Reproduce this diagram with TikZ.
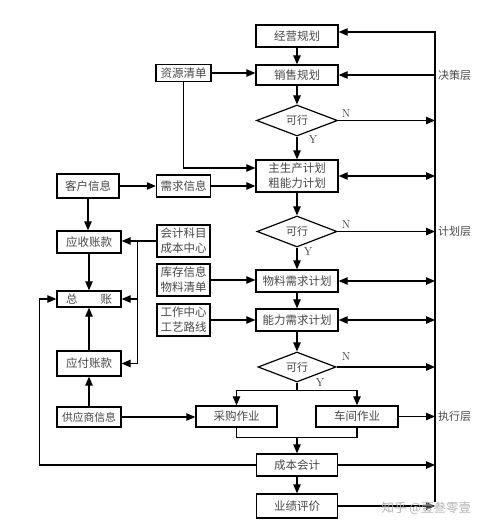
\documentclass[tikz,border=0pt]{standalone}
\usepackage{fontspec}
\newfontfamily\cjk{Noto Sans CJK SC}
\usetikzlibrary{shapes.geometric,arrows.meta,calc}
\tikzset{
  box/.style={draw=black,line width=1.4pt,fill=white,rectangle,inner sep=0pt,
    text=black!72,font=\cjk\fontsize{11.5}{15}\selectfont,align=center},
  dia/.style={draw=black,line width=1.2pt,fill=white,diamond,aspect=2.6,inner sep=0pt,
    text=black!72,font=\cjk\fontsize{11}{12}\selectfont},
  ln/.style={line width=1.1pt},
  arr/.style={ln,-{Triangle[length=9pt,width=7.5pt]}},
  darr/.style={ln,{Triangle[length=9pt,width=7.5pt]}-{Triangle[length=9pt,width=7.5pt]}},
  lab/.style={font=\cjk\fontsize{11}{12}\selectfont,text=black!72,inner sep=1pt},
  yn/.style={font=\fontsize{11.5}{12}\selectfont,text=black!80,inner sep=0pt}
}
\begin{document}
\begin{tikzpicture}[x=1pt,y=-1pt]
\useasboundingbox (0,0) rectangle (499,530);
% boxes
\node[box,minimum width=82pt,minimum height=22pt] (jy) at (297,36) {经营规划};
\node[box,minimum width=82pt,minimum height=20pt] (xs) at (297,75) {销售规划};
\node[box,minimum width=55pt,minimum height=17pt] (zy) at (183.5,73) {资源清单};
\node[dia,minimum width=81pt,minimum height=31pt] (d1) at (297,120.5) {可行};
\node[box,minimum width=82pt,minimum height=32pt] (main) at (297,176) {主生产计划\\粗能力计划};
\node[box,minimum width=54pt,minimum height=22pt] (xq) at (183.5,186) {需求信息};
\node[box,minimum width=62pt,minimum height=24pt] (kh) at (88,186) {客户信息};
\node[dia,minimum width=80pt,minimum height=31pt] (d2) at (297,231.5) {可行};
\node[box,minimum width=64pt,minimum height=22pt] (ys) at (89,242) {应收账款};
\node[box,minimum width=53pt,minimum height=32pt] (kj) at (183.5,241) {会计科目\\成本中心};
\node[box,minimum width=53pt,minimum height=32pt] (kc) at (183.5,280) {库存信息\\物料清单};
\node[box,minimum width=82pt,minimum height=22pt] (mrp) at (297,281) {物料需求计划};
\node[box,minimum width=64pt,minimum height=16pt] (zz) at (89,299) {总\hspace{2em}账};
\node[box,minimum width=53pt,minimum height=32pt] (gz) at (183.5,320) {工作中心\\工艺路线};
\node[box,minimum width=82pt,minimum height=22pt] (crp) at (297,320) {能力需求计划};
\node[dia,minimum width=78pt,minimum height=30pt] (d3) at (297,367) {可行};
\node[box,minimum width=64pt,minimum height=25pt] (yf) at (89,363.5) {应付账款};
\node[box,minimum width=64pt,minimum height=20pt,font=\cjk\fontsize{10.8}{12}\selectfont] (gy) at (89,417) {供应商信息};
\node[box,minimum width=81pt,minimum height=21pt] (cg) at (236.5,416.5) {采购作业};
\node[box,minimum width=82pt,minimum height=21pt] (cj) at (357,416.5) {车间作业};
\node[box,minimum width=81pt,minimum height=22pt] (cb) at (297,465) {成本会计};
\node[box,minimum width=81pt,minimum height=24pt] (yj) at (297,506) {业绩评价};
% bus
\coordinate (bTop) at (435,32);
\coordinate (bBot) at (435,502);
\draw[arr] (bBot) -- (bTop) -- (jy.east|-bTop);
\draw[arr] (bTop|-xs.east) -- (xs.east);
\draw[darr] (main.east) -- (main.east-|bTop);
\draw[darr] (mrp.east) -- (mrp.east-|bTop);
\draw[darr] (crp.east) -- (crp.east-|bTop);
\draw[arr] (d1.east) -- (d1.east-|bTop);
\draw[arr] (d2.east) -- (d2.east-|bTop);
\draw[arr] (d3.east) -- (d3.east-|bTop);
\draw[arr] (cj.east) -- (cj.east-|bTop);
\draw[arr] (cb.east) -- (cb.east-|bTop);
\draw[arr] (yj.east) -- (yj.east-|bTop);
% layer labels
\node[lab,anchor=west] (l1) at ($(bTop|-xs.east)+(2,0)$) {决策层};
\node[lab,anchor=west] (l2) at ($(bTop|-d2.east)+(2,0)$) {计划层};
\node[lab,anchor=west] (l3) at ($(bTop|-cj.east)+(2,0)$) {执行层};
% main column
\draw[arr] (jy.south) -- (xs.north);
\draw[arr] (xs.south) -- (d1.north);
\draw[arr] (d1.south) -- (main.north);
\draw[arr] (main.south) -- (d2.north);
\draw[arr] (d2.south) -- (mrp.north);
\draw[arr] (mrp.south) -- (crp.north);
\draw[arr] (crp.south) -- (d3.north);
\draw[arr] (cb.south) -- (yj.north);
% Y / N labels
\node[yn] (n1) at (346,114) {N};
\node[yn] (y1) at (313,140) {Y};
\node[yn] (n2) at (346,225) {N};
\node[yn] (y2) at (308,252) {Y};
\node[yn] (n3) at (346,357) {N};
\node[yn] (y3) at (320,383) {Y};
% inputs
\draw[arr] (zy.east) -- (zy.east-|xs.west);
\draw[arr] (zy.south) |- ($(main.west)+(0,-8)$);
\draw[arr] (xq.east) -- (xq.east-|main.west);
\draw[arr] (kh.east) -- (xq.west);
\draw[arr] (kc.east) -- (kc.east-|mrp.west);
\draw[arr] (gz.east) -- (gz.east-|crp.west);
% accounts
\draw[arr] (kh.south) -- (kh.south|-ys.north);
\draw[arr] (ys.south) -- (zz.north);
\draw[arr] (yf.north) -- (zz.south);
\draw[arr] (gy.north) -- (yf.south);
\coordinate (j1) at ($(kj.west)+(-19,0)$);
\draw[arr] (kj.west) -- (kj.west-|ys.east);
\draw[arr] (j1) |- (zz.east);
\draw[arr] (j1) |- (yf.east);
% execution
\draw[arr] (gy.east) -- (gy.east-|cg.west);
\coordinate (f1) at ($(d3.south)+(0,8)$);
\draw[ln] (d3.south) -- (f1);
\draw[arr] (f1) -| (cg.north);
\draw[arr] (f1) -| (cj.north);
\coordinate (m1) at ($(cb.north)+(0,-16)$);
\draw[ln] (cg.south) |- (m1);
\draw[ln] (cj.south) |- (m1);
\draw[arr] (m1) -- (cb.north);
\coordinate (lft) at ($(zz.west)+(-17,0)$);
\draw[arr] (cb.west) -| (lft) -- (zz.west);
% watermark
\node[font=\cjk\fontsize{12.5}{14}\selectfont,text=black!30,anchor=west] (wm) at (378,508) {知乎 @壹叁零壹};
\end{tikzpicture}
\end{document}
